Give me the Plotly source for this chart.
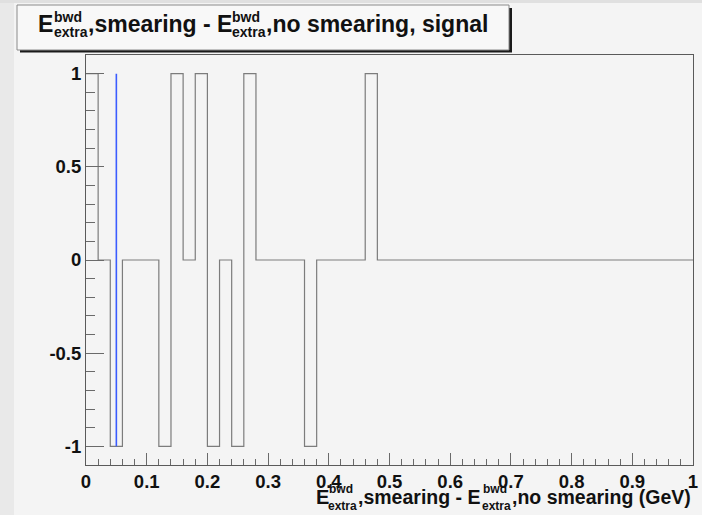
import plotly.graph_objects as go

# Histogram: difference of backward extra energy with and without smearing (signal)
x_min, x_max = 0.0, 1.0
n_bins = 50
hist_values = [
    1, 0, -1, 0, 0, 0, -1, 1, 0, 1,
    -1, 0, -1, 1, 0, 0, 0, 0, -1, 0,
    0, 0, 0, 1, 0, 0, 0, 0, 0, 0,
    0, 0, 0, 0, 0, 0, 0, 0, 0, 0,
    0, 0, 0, 0, 0, 0, 0, 0, 0, 0,
]
# Reference marker line (blue)
marker_x = [0.05, 0.05]
marker_y = [-1, 1]

x_ticks = [0, 0.1, 0.2, 0.3, 0.4, 0.5, 0.6, 0.7, 0.8, 0.9, 1]
x_tick_labels = ["0", "0.1", "0.2", "0.3", "0.4", "0.5", "0.6", "0.7", "0.8", "0.9", "1"]
y_ticks = [-1, -0.5, 0, 0.5, 1]
y_tick_labels = ["-1", "-0.5", "0", "0.5", "1"]

# ---- page geometry (pixels) ----
W, H = 702, 515
L, R, T, B = 86, 693, 55, 465
FONT = "Liberation Sans, Arial, Helvetica, sans-serif"
BG = "#f4f4f4"


def px(x):
    return (x - L) / (R - L)


def py(y):
    return (B - y) / (B - T)


bin_width = (x_max - x_min) / n_bins
edges = [x_min + i * bin_width for i in range(n_bins + 1)]
step_y = hist_values + [hist_values[-1]]

fig = go.Figure()
fig.add_trace(go.Scatter(
    x=edges, y=step_y, mode="lines", line_shape="hv",
    line=dict(color="#7c7c7c", width=1.2), hoverinfo="skip", showlegend=False,
))
fig.add_trace(go.Scatter(
    x=marker_x, y=marker_y, mode="lines",
    line=dict(color="#3b5cff", width=1.6), hoverinfo="skip", showlegend=False,
))

shapes = [
    # window edge strips
    dict(type="rect", xref="paper", yref="paper", x0=px(0), x1=px(14), y0=py(H), y1=py(0),
         fillcolor="#e9e9e9", line_width=0, layer="below"),
    dict(type="rect", xref="paper", yref="paper", x0=px(0), x1=px(W), y0=py(3), y1=py(0),
         fillcolor="#e0e0e0", line_width=0, layer="below"),
    # title box shadow and box
    dict(type="rect", xref="paper", yref="paper", x0=px(20), x1=px(512), y0=py(52.5), y1=py(8),
         fillcolor="#1a1a1a", line_width=0),
    dict(type="rect", xref="paper", yref="paper", x0=px(17), x1=px(509), y0=py(50), y1=py(5),
         fillcolor="#f8f8f8", line=dict(color="#8a8a8a", width=1)),
]

annotations = []


def add_text(text, x, baseline, size, anchor="left"):
    annotations.append(dict(
        text=text, xref="paper", yref="paper", x=px(x), y=py(baseline - 0.35 * size),
        xanchor=anchor, yanchor="middle", showarrow=False,
        font=dict(family=FONT, size=size, color="#111", weight="bold"),
        borderpad=0,
    ))


# title
add_text("E", 37, 32, 23)
add_text("bwd", 53, 22, 14)
add_text("extra", 52.5, 36.5, 14)
add_text(",smearing - E", 86.5, 32, 23)
add_text("bwd", 231, 22, 14)
add_text("extra", 230.5, 36.5, 14)
add_text(",no smearing, signal", 265, 32, 23)

# x-axis title
add_text("E", 315, 504, 20)
add_text("bwd", 328, 493, 12)
add_text("extra", 327, 510, 12)
add_text(",smearing - E", 357, 504, 19.5)
add_text("bwd", 482, 493, 12)
add_text("extra", 481, 510, 12)
add_text(",no smearing (GeV)", 692, 504, 19.5, anchor="right")

tick_font = dict(family=FONT, size=18.5, color="#111", weight="bold")
axis_common = dict(
    showgrid=False, zeroline=False, showline=True, mirror=True,
    linecolor="#5a5a5a", linewidth=1, ticks="inside", tickcolor="#6a6a6a",
    tickwidth=1, tickfont=tick_font, tickmode="array", automargin=False,
)

fig.update_layout(
    width=W, height=H,
    margin=dict(l=L, r=W - R, t=T, b=H - B, pad=0, autoexpand=False),
    paper_bgcolor=BG, plot_bgcolor=BG,
    shapes=shapes, annotations=annotations,
    xaxis=dict(
        range=[x_min, x_max], tickvals=x_ticks, ticktext=x_tick_labels, ticklen=12,
        minor=dict(tickmode="linear", tick0=0, dtick=0.02, ticks="inside", ticklen=6,
                   tickcolor="#6a6a6a", showgrid=False),
        **axis_common,
    ),
    yaxis=dict(
        range=[-1.1, 1.1], tickvals=y_ticks, ticktext=y_tick_labels, ticklen=18,
        minor=dict(tickmode="linear", tick0=0, dtick=0.1, ticks="inside", ticklen=9,
                   tickcolor="#6a6a6a", showgrid=False),
        **axis_common,
    ),
    showlegend=False,
)

fig.write_html("out.html")
